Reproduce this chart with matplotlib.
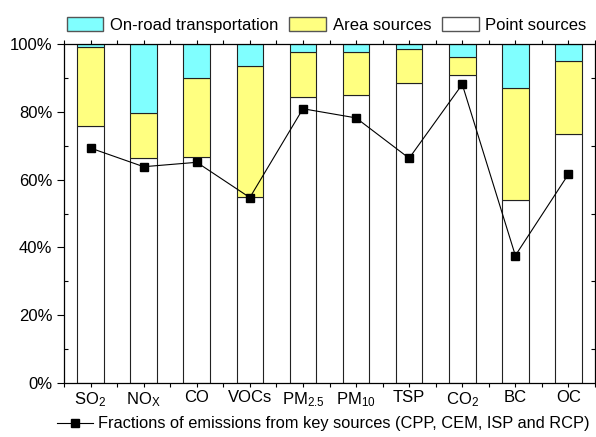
import numpy as np
import matplotlib
matplotlib.use("Agg")
import matplotlib.pyplot as plt
from matplotlib.ticker import MultipleLocator, FuncFormatter
from matplotlib.lines import Line2D
from matplotlib.patches import Patch

plt.rcParams['font.family'] = ['Liberation Sans', 'DejaVu Sans']
plt.rcParams['mathtext.fontset'] = 'custom'
plt.rcParams['mathtext.rm'] = 'Liberation Sans'
plt.rcParams['mathtext.it'] = 'Liberation Sans'

# === Data (percent of total emissions)
pollutants = ["SO$_2$", "NO$_X$", "CO", "VOCs", "PM$_{2.5}$", "PM$_{10}$",
              "TSP", "CO$_2$", "BC", "OC"]
point_sources = [75.7, 66.4, 66.8, 54.8, 84.4, 85.0, 88.4, 90.8, 54.0, 73.4]
area_sources = [23.3, 13.2, 23.1, 38.7, 13.2, 12.7, 10.2, 5.5, 32.9, 21.5]
onroad = [100 - p - a for p, a in zip(point_sources, area_sources)]
key_fraction = [69.3, 63.8, 65.1, 54.7, 80.9, 78.2, 66.3, 88.1, 37.6, 61.6]

# === Plot
fig = plt.figure(figsize=(5.96, 4.37), dpi=100)
ax = fig.add_axes([64 / 596, 1 - 383 / 437, 531 / 596, 339 / 437])

x = np.arange(len(pollutants))
w = 0.5
edge = "#222222"
ax.bar(x, point_sources, w, color="white", edgecolor=edge, linewidth=0.8)
ax.bar(x, area_sources, w, bottom=point_sources, color="#FFFF80",
       edgecolor=edge, linewidth=0.8)
bottom2 = [p + a for p, a in zip(point_sources, area_sources)]
ax.bar(x, onroad, w, bottom=bottom2, color="#80FFFF", edgecolor=edge, linewidth=0.8)

ax.plot(x, key_fraction, color="black", linewidth=0.8, marker="s",
        markersize=6, markerfacecolor="black")

ax.set_xlim(-0.5, 9.5)
ax.set_ylim(0, 100)
ax.set_xticks(x)
ax.set_xticklabels(pollutants, fontsize=12)
ax.set_xticks(np.arange(-0.5, 10, 1), minor=True)
ax.yaxis.set_major_locator(MultipleLocator(20))
ax.yaxis.set_minor_locator(MultipleLocator(10))
ax.yaxis.set_major_formatter(FuncFormatter(lambda v, p: f"{int(v)}%"))
ax.tick_params(axis="y", labelsize=12, direction="out", length=5, width=0.8)
ax.tick_params(axis="y", which="minor", direction="in", length=3, width=0.8)
ax.tick_params(axis="x", which="both", direction="out", length=3, width=0.8, pad=2)
ax.tick_params(axis="both", which="both", top=True, right=True)
for s in ax.spines.values():
    s.set_linewidth(0.9)

# === Legends
handles = [Patch(facecolor="#80FFFF", edgecolor="#555555", label="On-road transportation"),
           Patch(facecolor="#FFFF80", edgecolor="#555555", label="Area sources"),
           Patch(facecolor="white", edgecolor="#555555", label="Point sources")]
fig.legend(handles=handles, loc="center", bbox_to_anchor=(0.548, 0.943), ncol=3,
           frameon=False, fontsize=12, handlelength=2.2, handleheight=0.9,
           handletextpad=0.4, columnspacing=0.65, borderaxespad=0, borderpad=0)

line_handle = Line2D([], [], color="black", linewidth=0.8, marker="s",
                     markersize=6, label="Fractions of emissions from key sources (CPP, CEM, ISP and RCP)")
fig.legend(handles=[line_handle], loc="center", bbox_to_anchor=(0.542, 0.03),
           frameon=False, fontsize=11.8, handlelength=2.2, handletextpad=0.3,
           borderaxespad=0, borderpad=0)

fig.savefig("out.png", dpi=100)
